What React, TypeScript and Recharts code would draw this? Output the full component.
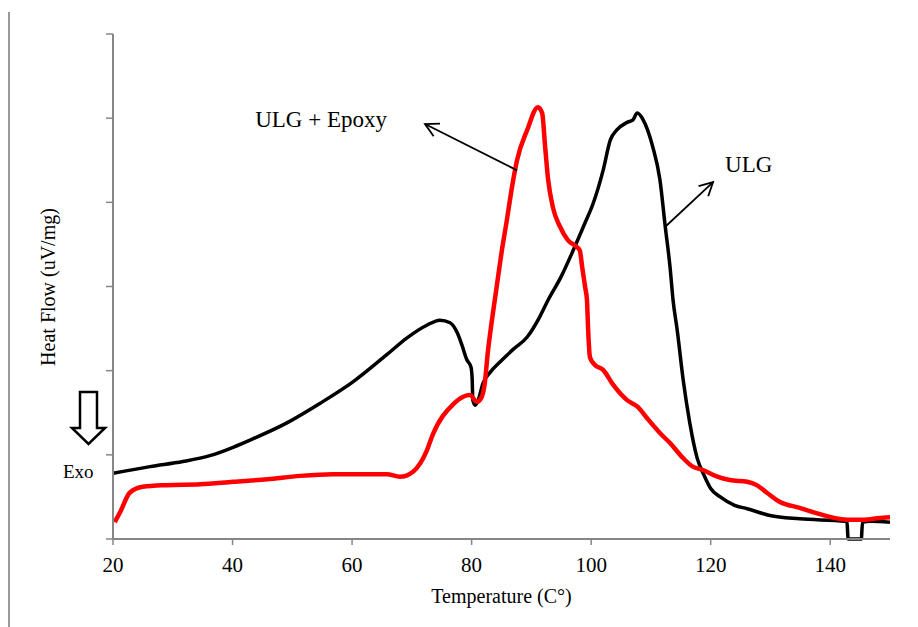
import { LineChart, Line, XAxis, YAxis, ReferenceLine } from "recharts";

// ULG (black) trace, temperature in C and heat flow in uV/mg
const ulgTemp = [
  20, 26.2, 31.7, 36.2, 40.1, 43.4, 49.1, 54.6, 60.2, 65.8, 69.2, 72.5, 74.7,
  76.4, 77.6, 78.4, 79.2, 79.9, 80.1, 80.2, 80.6, 81.1, 81.9, 83.1, 84.7, 86.9,
  89.3, 91.4, 92.8, 95, 97, 99, 100.3, 102, 103.2, 104.3, 106, 107, 107.7,
  108.7, 110.3, 111.5, 112.4, 113.2, 113.7, 114.4, 115.4, 116.5, 117.7, 119,
  120, 121.6, 124, 126.1, 129.9, 134.9, 142.5, 142.8, 143, 145.2, 145.4, 146.7,
  150,
];
const ulgFlow = [
  0.78, 0.86, 0.92, 0.99, 1.09, 1.19, 1.38, 1.61, 1.87, 2.19, 2.39, 2.54, 2.6,
  2.57, 2.45, 2.3, 2.13, 2.04, 1.89, 1.65, 1.59, 1.65, 1.85, 1.98, 2.1, 2.25,
  2.4, 2.64, 2.84, 3.12, 3.43, 3.76, 3.98, 4.38, 4.74, 4.86, 4.95, 4.98, 5.06,
  4.98, 4.66, 4.27, 3.71, 3.23, 2.84, 2.48, 1.89, 1.38, 0.97, 0.74, 0.6, 0.5,
  0.4, 0.36, 0.28, 0.24, 0.21, 0.2, 0, 0, 0.2, 0.21, 0.2,
];

// ULG + Epoxy (red) trace
const epoxyTemp = [
  20.3, 21.2, 22.8, 25, 29, 34.6, 40.1, 45.8, 51.3, 56.8, 62.5, 65.8, 68, 70.2,
  72.5, 73.5, 76.9, 78.6, 79.7, 80.9, 81.7, 82.2, 82.7, 83.4, 84.2, 85, 85.9,
  86.8, 87.6, 89.3, 91.1, 91.8, 92.3, 92.8, 93.6, 94.8, 96.1, 97.6, 98.1, 98.5,
  99, 99.3, 99.5, 99.8, 100.6, 102, 103.7, 106, 107.8, 109.3, 111.5, 113.2,
  115.4, 117, 118.7, 121.1, 123.2, 126.1, 127.7, 129.4, 131.6, 134.9, 137.1,
  142.8, 145.5, 148.3, 150,
];
const epoxyFlow = [
  0.2, 0.32, 0.55, 0.62, 0.64, 0.65, 0.68, 0.71, 0.75, 0.77, 0.77, 0.77, 0.74,
  0.8, 1.05, 1.24, 1.6, 1.69, 1.71, 1.63, 1.69, 1.85, 2.21, 2.6, 3.0, 3.4,
  3.79, 4.2, 4.5, 4.86, 5.13, 5.06, 4.66, 4.27, 3.94, 3.71, 3.55, 3.47, 3.43,
  3.23, 2.99, 2.84, 2.48, 2.16, 2.07, 2.01, 1.83, 1.65, 1.57, 1.44, 1.26, 1.14,
  0.96, 0.86, 0.82, 0.74, 0.7, 0.68, 0.64, 0.55, 0.44, 0.37, 0.32, 0.23, 0.23,
  0.25, 0.26,
];

const tempTicks = [20, 40, 60, 80, 100, 120, 140];
const flowTicks = [0, 1, 2, 3, 4, 5, 6];

// annotation arrows (tail -> head) in data units
const epoxyArrow = [
  { x: 87.6, y: 4.38 },
  { x: 72.2, y: 4.93 },
];
const ulgArrow = [
  { x: 112.4, y: 3.71 },
  { x: 120.4, y: 4.24 },
];

const ulgData = ulgTemp.map((t, i) => ({ t, flow: ulgFlow[i] }));
const epoxyData = epoxyTemp.map((t, i) => ({ t, flow: epoxyFlow[i] }));

const serif = '"Liberation Serif", "Times New Roman", serif';
const axisGray = "#868686";

// arrow with open head + text near head
const arrowShape =
  (text: string, dx: number, dy: number, anchor: "start" | "end") =>
  (props: any) => {
    const { x1, y1, x2, y2 } = props;
    const ang = Math.atan2(y2 - y1, x2 - x1);
    const len = 15;
    const spread = (28 * Math.PI) / 180;
    const ax = x2 - len * Math.cos(ang - spread);
    const ay = y2 - len * Math.sin(ang - spread);
    const bx = x2 - len * Math.cos(ang + spread);
    const by = y2 - len * Math.sin(ang + spread);
    return (
      <g>
        <line x1={x1} y1={y1} x2={x2} y2={y2} stroke="#000" strokeWidth={1.8} />
        <polyline
          points={`${ax},${ay} ${x2},${y2} ${bx},${by}`}
          fill="none"
          stroke="#000"
          strokeWidth={1.8}
        />
        <text
          x={x2 + dx}
          y={y2 + dy}
          textAnchor={anchor}
          fontFamily={serif}
          fontSize={23}
          fill="#000"
        >
          {text}
        </text>
      </g>
    );
  };

export default function App() {
  return (
    <div
      style={{
        position: "absolute",
        top: 0,
        left: 0,
        width: 918,
        height: 627,
        background: "#fff",
      }}
    >
      <LineChart
        width={918}
        height={627}
        margin={{ top: 34, right: 28, bottom: 0, left: 107 }}
      >
        <XAxis
          type="number"
          dataKey="t"
          domain={[20, 150]}
          ticks={tempTicks}
          height={88}
          tickSize={6}
          tickMargin={12}
          axisLine={{ stroke: axisGray, strokeWidth: 2 }}
          tickLine={{ stroke: axisGray, strokeWidth: 1.5 }}
          tick={{ fill: "#000", fontSize: 21, fontFamily: serif }}
          label={{
            value: "Temperature (C°)",
            position: "insideBottom",
            offset: 24,
            fill: "#000",
            fontSize: 20,
            fontFamily: serif,
          }}
        />
        <YAxis
          type="number"
          domain={[0, 6]}
          ticks={flowTicks}
          width={6}
          tickSize={7}
          axisLine={{ stroke: axisGray, strokeWidth: 2 }}
          tickLine={{ stroke: axisGray, strokeWidth: 1.5 }}
          tickFormatter={() => ""}
        />
        <Line
          data={ulgData}
          dataKey="flow"
          type="monotone"
          stroke="#000"
          strokeWidth={3.5}
          dot={false}
          isAnimationActive={false}
        />
        <Line
          data={epoxyData}
          dataKey="flow"
          type="monotone"
          stroke="#ff0000"
          strokeWidth={4.5}
          dot={false}
          isAnimationActive={false}
        />
        <ReferenceLine
          segment={epoxyArrow}
          ifOverflow="visible"
          shape={arrowShape("ULG + Epoxy", -38, 3, "end")}
        />
        <ReferenceLine
          segment={ulgArrow}
          ifOverflow="visible"
          shape={arrowShape("ULG", 12, -10, "start")}
        />
      </LineChart>
      <svg
        width={918}
        height={627}
        style={{ position: "absolute", top: 0, left: 0, pointerEvents: "none" }}
      >
        <line x1={9} y1={12} x2={9} y2={627} stroke="#9a9a9a" strokeWidth={2} />
        <text
          transform="translate(55,287) rotate(-90)"
          textAnchor="middle"
          fontFamily={serif}
          fontSize={20}
          fill="#000"
        >
          Heat Flow (uV/mg)
        </text>
        <polygon
          points="80,392 97,392 97,428 105,428 88.5,444 72,428 80,428"
          fill="#fff"
          stroke="#000"
          strokeWidth={2.5}
          strokeLinejoin="miter"
        />
        <text x={63} y={478} fontFamily={serif} fontSize={19} fill="#000">
          Exo
        </text>
      </svg>
    </div>
  );
}
